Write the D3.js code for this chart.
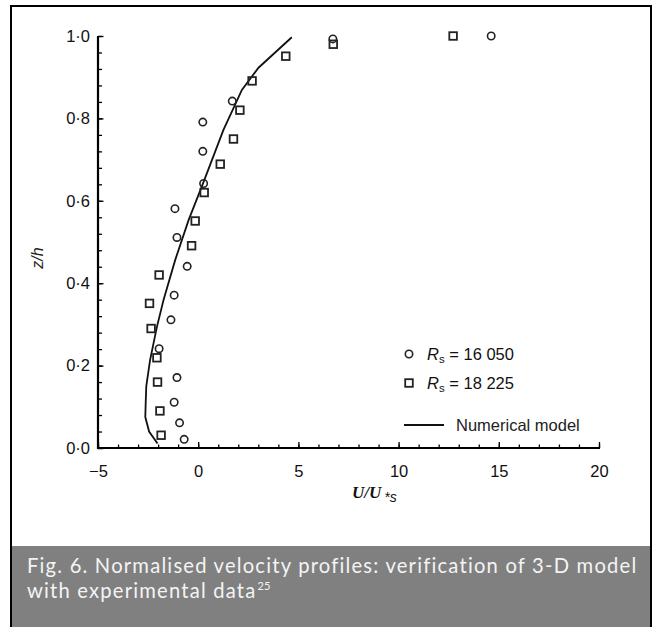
<!DOCTYPE html>
<html><head><meta charset="utf-8">
<script src="https://cdn.jsdelivr.net/npm/d3@7"></script>
<style>body{margin:0;background:#fff}svg{display:block}</style>
</head><body>
<svg id="c" width="658" height="627"></svg>
<script>
// Data
const xTicks = [-5, 0, 5, 10, 15, 20];
const yTicks = [0, 0.2, 0.4, 0.6, 0.8, 1.0];
const circleU = [6.72, 14.62, 1.70, 0.23, 0.23, 0.27, -1.16, -1.06, -0.55, -1.20, -1.36, -1.95, -1.06, -1.20, -0.93, -0.70];
const circleZ = [0.993, 1.0, 0.842, 0.791, 0.72, 0.642, 0.581, 0.511, 0.441, 0.371, 0.311, 0.241, 0.171, 0.111, 0.061, 0.021];
const squareU = [12.72, 6.74, 4.37, 2.69, 2.08, 1.76, 1.10, 0.30, -0.15, -0.33, -1.95, -2.43, -2.35, -2.06, -2.03, -1.91, -1.85];
const squareZ = [1.0, 0.98, 0.951, 0.891, 0.82, 0.75, 0.689, 0.62, 0.551, 0.491, 0.42, 0.351, 0.29, 0.219, 0.16, 0.09, 0.031];
const modelU = [-2.03, -2.45, -2.64, -2.62, -2.59, -2.40, -2.06, -1.73, -1.15, -0.48, 0.27, 1.26, 2.18, 3.01, 4.67];
const modelZ = [0.011, 0.04, 0.075, 0.11, 0.15, 0.214, 0.294, 0.359, 0.456, 0.553, 0.646, 0.772, 0.869, 0.923, 0.997];
const legendLabels = ["16 050", "18 225", "Numerical model"];
const caption = ["Fig. 6. Normalised velocity profiles: verification of 3-D model", "with experimental data"];

const svg = d3.select("#c");
const x = d3.scaleLinear().domain([-5, 20]).range([98, 599]);
const y = d3.scaleLinear().domain([0, 1]).range([448, 36]);
const sans = "'Liberation Sans', Arial, Helvetica, sans-serif";

// frame
svg.append("rect").attr("x", 11).attr("y", 6).attr("width", 640).attr("height", 640)
  .attr("fill", "none").attr("stroke", "#000").attr("stroke-width", 2);
// caption box
svg.append("rect").attr("x", 12).attr("y", 546).attr("width", 638).attr("height", 90).attr("fill", "#808080");

// axes
const g = svg.append("g");
const xMinor = d3.range(-5, 20.01, 1);
const yMinor = d3.range(0, 1.0001, 0.04);
g.append("g").attr("transform", "translate(0,448)")
  .call(d3.axisBottom(x).tickValues(xMinor).tickSize(-3.5).tickFormat(""))
  .call(s => s.select(".domain").remove());
g.append("g").attr("transform", "translate(0,448)")
  .call(d3.axisBottom(x).tickValues(xTicks).tickSize(-6).tickPadding(17)
    .tickFormat(d => d < 0 ? "\u2212" + Math.abs(d) : String(d)))
  .call(s => s.select(".domain").remove());
g.append("g").attr("transform", "translate(98,0)")
  .call(d3.axisLeft(y).tickValues(yMinor).tickSize(-4).tickFormat(""))
  .call(s => s.select(".domain").remove());
g.append("g").attr("transform", "translate(98,0)")
  .call(d3.axisLeft(y).tickValues(yTicks).tickSize(-5.5).tickPadding(8)
    .tickFormat(d => d3.format(".1f")(d).replace(".", "\u00b7")))
  .call(s => s.select(".domain").remove());
g.selectAll(".tick line").attr("stroke", "#000").attr("stroke-width", 1.3);
g.selectAll(".tick text").attr("font-family", sans).attr("font-size", 16.5).attr("fill", "#111");
// axis lines
svg.append("line").attr("x1", x(-5) - 1).attr("x2", x(20) + 1).attr("y1", 448).attr("y2", 448)
  .attr("stroke", "#000").attr("stroke-width", 2.2);
svg.append("line").attr("x1", 98).attr("x2", 98).attr("y1", y(1)).attr("y2", 449)
  .attr("stroke", "#000").attr("stroke-width", 2.2);

// model line
const line = d3.line().x(d => x(d[0])).y(d => y(d[1]));
svg.append("path").datum(modelU.map((u, i) => [u, modelZ[i]]))
  .attr("d", line).attr("fill", "none").attr("stroke", "#111").attr("stroke-width", 1.8);

// markers
svg.append("g").selectAll("circle").data(circleU.map((u, i) => [u, circleZ[i]])).join("circle")
  .attr("cx", d => x(d[0])).attr("cy", d => y(d[1])).attr("r", 3.7)
  .attr("fill", "none").attr("stroke", "#222").attr("stroke-width", 1.6);
svg.append("g").selectAll("rect").data(squareU.map((u, i) => [u, squareZ[i]])).join("rect")
  .attr("x", d => x(d[0]) - 3.8).attr("y", d => y(d[1]) - 3.8).attr("width", 7.6).attr("height", 7.6)
  .attr("fill", "none").attr("stroke", "#222").attr("stroke-width", 1.8);

// legend
const lg = svg.append("g");
lg.append("circle").attr("cx", 409).attr("cy", 354).attr("r", 3.7)
  .attr("fill", "none").attr("stroke", "#222").attr("stroke-width", 1.6);
lg.append("rect").attr("x", 409 - 3.8).attr("y", 383 - 3.8).attr("width", 7.6).attr("height", 7.6)
  .attr("fill", "none").attr("stroke", "#222").attr("stroke-width", 1.8);
function rsLabel(yy, val) {
  const t = lg.append("text").attr("x", 427).attr("y", yy).attr("font-family", sans).attr("font-size", 16.5).attr("fill", "#111");
  t.append("tspan").attr("font-style", "italic").text("R");
  t.append("tspan").attr("font-size", 11.5).attr("dy", 3).text("s");
  t.append("tspan").attr("dy", -3).text(" = " + val);
}
rsLabel(360, legendLabels[0]);
rsLabel(389, legendLabels[1]);
lg.append("line").attr("x1", 404).attr("x2", 444).attr("y1", 425).attr("y2", 425)
  .attr("stroke", "#111").attr("stroke-width", 1.8);
lg.append("text").attr("x", 456).attr("y", 431).attr("font-family", sans).attr("font-size", 16.5)
  .attr("fill", "#222").text(legendLabels[2]);

// axis titles
const xt = svg.append("text").attr("x", 352).attr("y", 498)
  .attr("font-family", "'Liberation Serif', 'Times New Roman', serif").attr("font-size", 17)
  .attr("font-weight", "bold").attr("font-style", "italic").attr("fill", "#111");
xt.append("tspan").text("U/U");
xt.append("tspan").attr("dx", 3).attr("dy", 4).attr("font-family", sans).attr("font-weight", "normal").attr("font-size", 14).text("*s");
svg.append("text").attr("transform", "translate(43,258) rotate(-90)").attr("text-anchor", "middle")
  .attr("font-family", sans).attr("font-style", "italic").attr("font-size", 16).attr("fill", "#222").text("z/h");

// caption
const capFont = "Lato, 'Open Sans', sans-serif";
const fs = 20.2;
const c1 = svg.append("text").attr("x", 27).attr("y", 573).attr("font-family", capFont)
  .attr("font-size", fs).attr("fill", "#f4f4f4").text(caption[0]);
const w = c1.node().getComputedTextLength();
const ls = Math.max(0, (610 - w) / caption[0].length);
c1.attr("letter-spacing", ls);
const c2 = svg.append("text").attr("x", 27).attr("y", 597.5).attr("font-family", capFont)
  .attr("font-size", fs).attr("letter-spacing", ls).attr("fill", "#f4f4f4").text(caption[1]);
const w2 = c2.node().getComputedTextLength();
svg.append("text").attr("x", 27 + w2 + 1).attr("y", 589.5).attr("font-family", capFont)
  .attr("font-size", 11).attr("fill", "#f4f4f4").text("25");
</script>
</body></html>
